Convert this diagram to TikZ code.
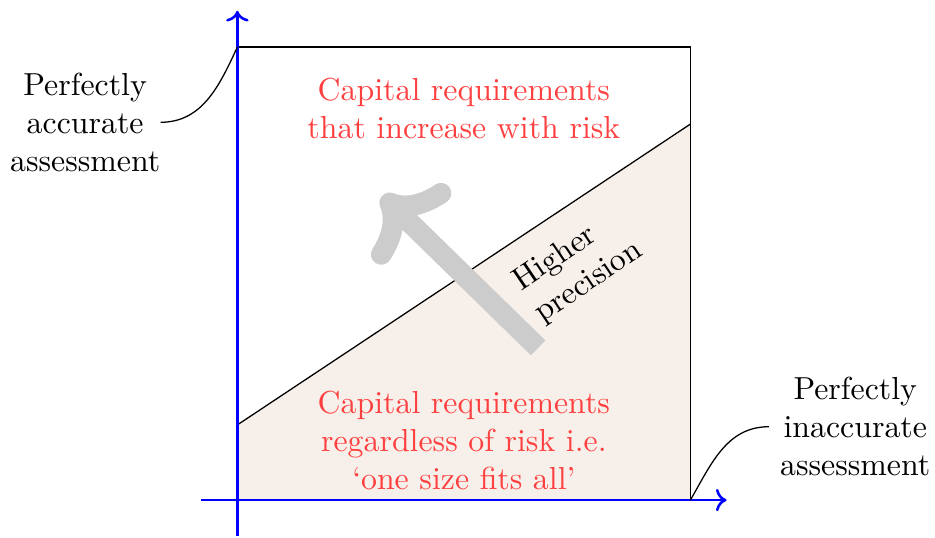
\documentclass[tikz,border=0pt]{standalone}
\usepackage{xcolor}
\usepackage{tikz}
\usetikzlibrary{arrows.meta, positioning, calc}

\definecolor{lowfill}{RGB}{247,240,234}

\begin{document}
\begin{tikzpicture}[
  axis/.style={->, thick, blue},
  region/.style={draw=black, thin},
  caption/.style={align=center, text=red!75},
  sidelabel/.style={align=center},
  pointer/.style={thin, black},
  precarrow/.style={->, line width=6.5pt, black!20}
]
  \useasboundingbox (-2.62,-0.41) rectangle (7.70,5.52);

  % Corners of the square
  \coordinate (o) at (0,0);
  \coordinate (br) at (5,0);
  \coordinate (tr) at (5,5);
  \coordinate (tl) at (0,5);
  \coordinate (lowl) at (0,0.83);
  \coordinate (lowr) at (5,4.15);

  % Shaded lower region
  \fill[lowfill] (o) -- (br) -- (lowr) -- (lowl) -- cycle;
  \draw[region] (o) rectangle (tr);
  \draw[region] (lowl) -- (lowr);

  % Axes
  \coordinate (xstart) at (-0.4,0);
  \coordinate (xend) at (5.4,0);
  \coordinate (ystart) at (0,-0.4);
  \coordinate (yend) at (0,5.4);
  \draw[axis] (xstart) -- (xend);
  \draw[axis] (ystart) -- (yend);

  % Captions
  \node[caption] (upper) at (2.5,4.32) {Capital requirements\\that increase with risk};
  \node[caption] (lower) at (2.5,0.66) {Capital requirements\\regardless of risk i.e.\\`one size fits all'};

  % Precision arrow
  \coordinate (pstart) at (3.32,1.68);
  \coordinate (pend) at (1.6,3.36);
  \draw[precarrow] (pstart) -- (pend);
  \node[align=left, rotate=34] (prec) at (3.76,2.58) {Higher\\precision};

  % Side labels
  \node[sidelabel] (accurate) at (-1.68,4.17) {Perfectly\\accurate\\assessment};
  \node[sidelabel] (inaccurate) at (6.82,0.81) {Perfectly\\inaccurate\\assessment};
  \draw[pointer] ($(accurate.east)+(-0.12,0)$) to[out=0, in=-115] (tl);
  \draw[pointer] (inaccurate.west) to[out=180, in=60] (br);
\end{tikzpicture}
\end{document}
